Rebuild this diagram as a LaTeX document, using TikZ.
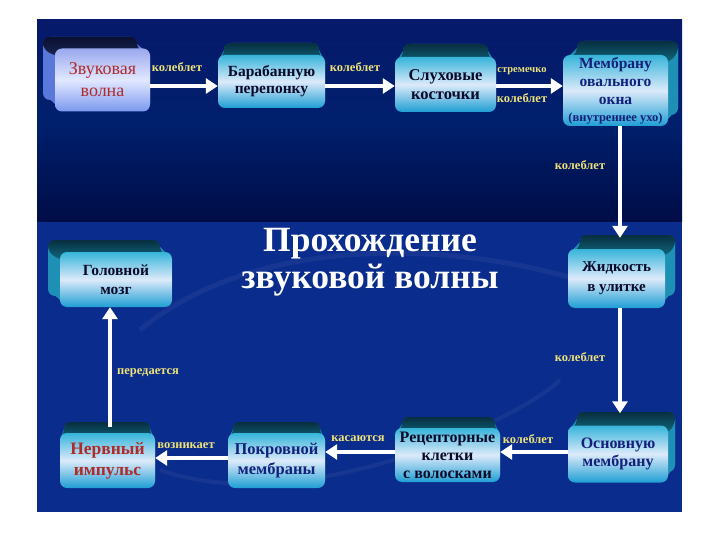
\documentclass[tikz,border=0pt]{standalone}
\usepackage{fontspec}
\setmainfont{Liberation Serif}
\usetikzlibrary{arrows.meta}

\definecolor{labcol}{HTML}{EEE27A}
\definecolor{navytxt}{HTML}{14207A}
\definecolor{redtxt}{HTML}{B02A2A}
\definecolor{blacktxt}{HTML}{0A0A28}
\definecolor{cytopA}{HTML}{082E40}
\definecolor{cytopB}{HTML}{106A80}
\definecolor{cyside}{HTML}{1E8FB5}
\definecolor{cyA}{HTML}{36B4DA}
\definecolor{cyM}{HTML}{DCEAFA}
\definecolor{cyB}{HTML}{1E9ED4}
\definecolor{lvA}{HTML}{9AA8EE}
\definecolor{lvM}{HTML}{E2E8FF}
\definecolor{lvB}{HTML}{7A98EE}
\definecolor{lvside}{HTML}{5A78DA}
\definecolor{lvtopA}{HTML}{0A1030}
\definecolor{lvtopB}{HTML}{1A2450}
\definecolor{bgtopA}{HTML}{06196A}
\definecolor{bgtopM}{HTML}{00206E}
\definecolor{bgtopB}{HTML}{000C46}
\definecolor{bglow}{HTML}{0A2C8C}

\newcommand\extrude[9]{%
  \fill[#1side, rounded corners=7pt] (#6,#7) rectangle (#8,#9);
  \fill[#1side] (#6,#7+7) -- (#2,#3+7) -- (#2,#5-7) -- (#6,#9-7) -- cycle;
  \fill[#1side] (#8,#7+7) -- (#4,#3+7) -- (#4,#5-7) -- (#8,#9-7) -- cycle;
  \shade[top color=#1topA, bottom color=#1topB, rounded corners=6pt]
    (#6,#7+12) -- (#6,#7) -- (#8,#7) -- (#8,#7+12) -- (#4,#3+8) -- (#2,#3+8) -- cycle;
}

\tikzset{
  face/.style={rounded corners=7pt, inner sep=1pt, align=center,
    font=\bfseries\fontsize{16}{18}\selectfont},
  cyface/.style={face, shading=axis, top color=cyA, bottom color=cyB, middle color=cyM},
  lvface/.style={face, shading=axis, top color=lvA, bottom color=lvB, middle color=lvM},
  arr/.style={white, line width=4.5pt, -{Triangle[length=12pt,width=15pt]}},
  lab/.style={text=labcol, inner sep=1pt, font=\bfseries\fontsize{12.5}{14}\selectfont},
  ttl/.style={text=white, align=center, font=\bfseries\fontsize{35.5}{37}\selectfont}
}

\begin{document}
\begin{tikzpicture}[x=1pt,y=-1pt]
\useasboundingbox (0,0) rectangle (720,540);
\fill[white] (0,0) rectangle (720,540);
\shade[top color=bgtopA, bottom color=bgtopB, middle color=bgtopM] (37,20) rectangle (682,222);
\fill[bglow] (37,222) rectangle (682,512);
% faint swirls
\draw[white, opacity=0.05, line width=5pt] (140,330) .. controls (260,230) and (470,240) .. (610,290);
\draw[white, opacity=0.05, line width=4pt] (160,470) .. controls (300,520) and (520,420) .. (560,380);

% title
\node[ttl] (T) at (370,262) {Прохождение\\звуковой волны};

% boxes
\extrude{lv}{55}{48}{150}{111}{43}{37}{137}{100}
\node[lvface, minimum width=95pt, minimum height=63pt, text=redtxt,
  font=\fontsize{18}{22}\selectfont] (B1) at (102.5,80) {Звуковая\\волна};

\extrude{cy}{218}{55}{325}{108}{224}{43}{319}{98}
\node[cyface, minimum width=107pt, minimum height=53pt, text=blacktxt,
  font=\bfseries\fontsize{15.5}{17}\selectfont] (B2) at (271.5,81.5) {Барабанную\\перепонку};

\extrude{cy}{395}{57}{496}{112}{403}{44}{488}{100}
\node[cyface, minimum width=101pt, minimum height=55pt, text=blacktxt,
  font=\bfseries\fontsize{16.5}{19}\selectfont] (B3) at (445.5,84.5) {Слуховые\\косточки};

\extrude{cy}{563}{55}{668}{126}{577}{41}{678}{115}
\node[cyface, minimum width=105pt, minimum height=71pt, text=navytxt,
  font=\bfseries\fontsize{15.5}{18}\selectfont] (B4) at (615.5,90.5)
  {Мембрану\\овального\\окна\\[-1pt]{\fontsize{12.5}{13}\selectfont(внутреннее ухо)}};

\extrude{cy}{568}{248}{665}{307}{580}{235}{675}{296}
\node[cyface, minimum width=97pt, minimum height=59pt, text=blacktxt,
  font=\bfseries\fontsize{15}{20}\selectfont] (B5) at (616.5,278.5) {Жидкость\\в улитке};

\extrude{cy}{568}{425}{668}{482}{577}{412}{675}{472}
\node[cyface, minimum width=100pt, minimum height=57pt, text=navytxt] (B6) at (618,454) {Основную\\мембрану};

\extrude{cy}{395}{428}{500}{482}{402}{417}{495}{470}
\node[cyface, minimum width=105pt, minimum height=54pt, text=blacktxt,
  font=\bfseries\fontsize{16}{18}\selectfont] (B7) at (447.5,455) {Рецепторные\\клетки\\с волосками};

\extrude{cy}{228}{433}{325}{488}{233}{422}{320}{476}
\node[cyface, minimum width=97pt, minimum height=55pt, text=navytxt,
  font=\bfseries\fontsize{16.5}{20}\selectfont] (B8) at (276.5,460.5) {Покровной\\мембраны};

\extrude{cy}{60}{433}{155}{488}{64}{422}{150}{476}
\node[cyface, minimum width=95pt, minimum height=55pt, text=redtxt,
  font=\bfseries\fontsize{17.5}{21}\selectfont] (B9) at (107.5,460.5) {Нервный\\импульс};

\extrude{cy}{60}{252}{172}{307}{48}{240}{160}{296}
\node[cyface, minimum width=112pt, minimum height=55pt, text=blacktxt,
  font=\bfseries\fontsize{15.5}{19}\selectfont] (B10) at (116,279.5) {Головной\\мозг};

% connectors
\draw[arr] (B1.east |- 0,86) -- (B2.west |- 0,86);
\draw[arr] (B2.east |- 0,86) -- (B3.west |- 0,86);
\draw[arr] (B3.east |- 0,86) -- (B4.west |- 0,86);
\draw[arr, shorten >=11pt] (B4.south -| 620,0) -- (B5.north -| 620,0);
\draw[arr, shorten >=12pt] (B5.south -| 620,0) -- (B6.north -| 620,0);
\draw[arr] (B6.west |- 0,452) -- (B7.east |- 0,452);
\draw[arr] (B7.west |- 0,452) -- (B8.east |- 0,452);
\draw[arr] (B8.west |- 0,458) -- (B9.east |- 0,458);
\draw[arr, shorten <=6pt] (B9.north -| 110,0) -- (B10.south -| 110,0);

% labels
\node[lab] (L1) at (177,67) {колеблет};
\node[lab] (L2) at (355,67) {колеблет};
\node[lab, font=\bfseries\fontsize{10.5}{12}\selectfont] (L3) at (522,71) {стремечко};
\node[lab] (L4) at (522,98) {колеблет};
\node[lab] (L5) at (580,165) {колеблет};
\node[lab] (L6) at (580,357) {колеблет};
\node[lab] (L7) at (528,439) {колеблет};
\node[lab] (L8) at (358,439) {касаются};
\node[lab] (L9) at (186,446) {возникает};
\node[lab] (L10) at (148,373) {передается};
\end{tikzpicture}
\end{document}
